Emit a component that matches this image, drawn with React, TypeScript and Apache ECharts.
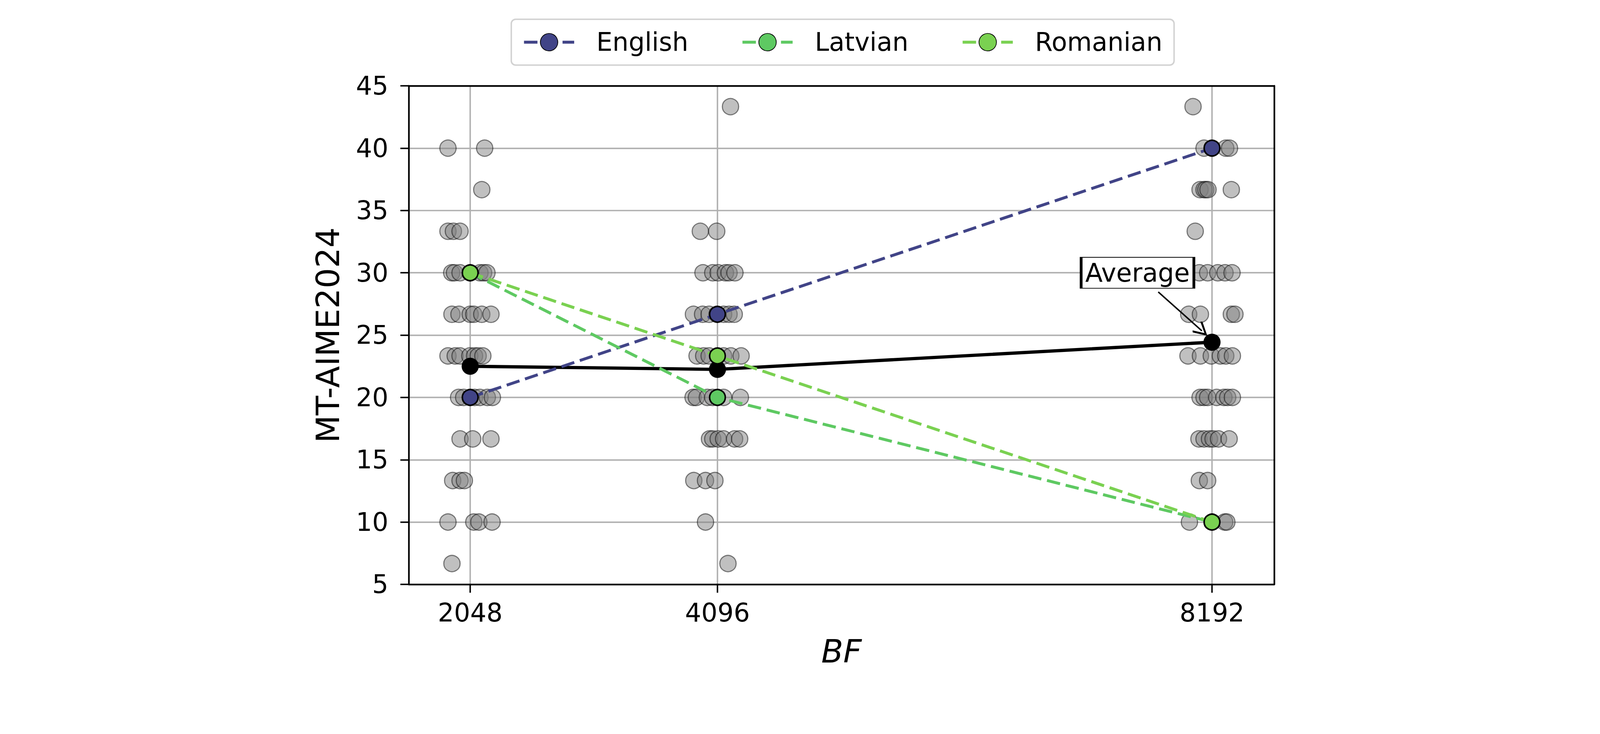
import React, { useEffect, useRef, useState } from 'react';
import * as echarts from 'echarts';

const FONT = 'DejaVu Sans';

// x categories (BF) and tick labels
const BF_TICKS = [2048, 4096, 8192];

// highlighted language series (score per BF)
const englishScores = [20, 26.67, 40];
const latvianScores = [30, 20, 10];
const romanianScores = [30, 23.33, 10];

// average over all languages
const averageScores = [22.5, 22.25, 24.43];

// gray jittered points: [offset from BF, score]
const jitter2048 = [
  [-184, 40], [120, 40], [96, 36.67],
  [-184, 33.33], [-139, 33.33], [-84, 33.33],
  [-153, 30], [-130, 30], [-84, 30], [0, 30], [81, 30], [111, 30], [139, 30],
  [-151, 26.67], [-93, 26.67], [0, 26.67], [30, 26.67], [96, 26.67], [172, 26.67],
  [-184, 23.33], [-124, 23.33], [-84, 23.33], [-3, 23.33], [36, 23.33], [66, 23.33], [105, 23.33],
  [-96, 20], [-54, 20], [0, 20], [36, 20], [81, 20], [142, 20], [184, 20],
  [-84, 16.67], [21, 16.67], [172, 16.67],
  [-145, 13.33], [-84, 13.33], [-48, 13.33],
  [-184, 10], [30, 10], [72, 10], [181, 10],
  [-151, 6.67],
];
const jitter4096 = [
  [108, 43.33],
  [-142, 33.33], [-6, 33.33],
  [-120, 30], [-39, 30], [6, 30], [66, 30], [96, 30], [145, 30],
  [-199, 26.67], [-123, 26.67], [-69, 26.67], [-3, 26.67], [51, 26.67], [96, 26.67], [139, 26.67],
  [-169, 23.33], [-114, 23.33], [-69, 23.33], [0, 23.33], [51, 23.33], [111, 23.33], [196, 23.33],
  [-202, 20], [-175, 20], [-84, 20], [-39, 20], [0, 20], [51, 20], [190, 20],
  [-66, 16.67], [-39, 16.67], [6, 16.67], [51, 16.67], [142, 16.67], [184, 16.67],
  [-196, 13.33], [-99, 13.33], [-21, 13.33],
  [-99, 10],
  [87, 6.67],
];
const jitter8192 = [
  [-157, 43.33],
  [-66, 40], [0, 40], [114, 40], [145, 40],
  [-99, 36.67], [-66, 36.67], [-51, 36.67], [-33, 36.67], [160, 36.67],
  [-139, 33.33],
  [-105, 30], [-36, 30], [48, 30], [108, 30], [166, 30],
  [-193, 26.67], [-96, 26.67], [160, 26.67], [190, 26.67],
  [-199, 23.33], [-96, 23.33], [-6, 23.33], [69, 23.33], [114, 23.33], [169, 23.33],
  [-99, 20], [-66, 20], [-36, 20], [39, 20], [99, 20], [130, 20], [169, 20],
  [-108, 16.67], [-66, 16.67], [-21, 16.67], [9, 16.67], [54, 16.67], [142, 16.67],
  [-105, 13.33], [-36, 13.33],
  [-187, 10], [0, 10], [105, 10], [123, 10],
];

// annotation anchors (data space)
const annotationText = [7575, 30];
const arrowStart = [7747, 28.46];
const arrowEnd = [8108, 25.34];

const X_MIN = 1539;
const X_MAX = 8707;

const W = 4400;
const H = 1879;

const scatterData = [
  ...jitter2048.map(([d, s]) => [2048 + d, s]),
  ...jitter4096.map(([d, s]) => [4096 + d, s]),
  ...jitter8192.map(([d, s]) => [8192 + d, s]),
];

const toLine = (vals: number[]) => BF_TICKS.map((b, i) => [b, vals[i]]);

function langSeries(name: string, color: string, vals: number[], z: number) {
  return {
    name,
    type: 'line',
    data: toLine(vals),
    symbol: 'circle',
    symbolSize: 43,
    z,
    lineStyle: { color, width: 8, type: [37, 16] },
    itemStyle: { color, borderColor: '#000', borderWidth: 4 },
  };
}

export default function App() {
  const ref = useRef<HTMLDivElement>(null);
  const [scale] = useState(() => (typeof window !== 'undefined' && window.innerWidth ? window.innerWidth / W : 1));
  useEffect(() => {
    const chart = echarts.init(ref.current!, null, { renderer: 'svg' });
    const axisLineStyle = { color: '#000', width: 4.5 };
    const option: any = {
      animation: false,
      backgroundColor: '#fff',
      textStyle: { fontFamily: FONT },
      grid: { left: 1124, right: 896, top: 236, bottom: 272, containLabel: false },
      legend: {
        data: ['English', 'Latvian', 'Romanian'],
        left: 1406,
        top: 53,
        orient: 'horizontal',
        itemWidth: 138,
        itemHeight: 60,
        itemGap: 145,
        padding: [28, 32, 28, 31],
        backgroundColor: '#fff',
        borderColor: '#d2d2d2',
        borderWidth: 4,
        borderRadius: 12,
        lineStyle: { width: 8 },
        textStyle: { fontSize: 70, color: '#000', fontFamily: FONT, padding: [0, 0, 0, 56] },
      },
      xAxis: [
        {
          type: 'value',
          min: X_MIN,
          max: X_MAX,
          position: 'bottom',
          name: 'BF',
          nameLocation: 'middle',
          nameGap: 140,
          nameTextStyle: { fontSize: 88, fontStyle: 'italic', color: '#000', fontFamily: FONT },
          axisLine: { show: true, onZero: false, lineStyle: axisLineStyle },
          axisTick: { show: true, customValues: BF_TICKS, length: 23, lineStyle: { color: '#000', width: 4 } },
          axisLabel: {
            customValues: BF_TICKS,
            formatter: (v: number) => String(v),
            fontSize: 70,
            color: '#000',
            margin: 43,
            fontFamily: FONT,
          },
          splitLine: { show: true, lineStyle: { color: '#b0b0b0', width: 4 } },
        },
        {
          type: 'value',
          min: X_MIN,
          max: X_MAX,
          position: 'top',
          axisLine: { show: true, onZero: false, lineStyle: axisLineStyle },
          axisTick: { show: false },
          axisLabel: { show: false },
          splitLine: { show: false },
        },
      ],
      yAxis: [
        {
          type: 'value',
          min: 5,
          max: 45,
          interval: 5,
          position: 'left',
          name: 'MT-AIME2024',
          nameLocation: 'middle',
          nameGap: 178,
          nameRotate: 90,
          nameTextStyle: { fontSize: 88, color: '#000', fontFamily: FONT },
          axisLine: { show: true, onZero: false, lineStyle: axisLineStyle },
          axisTick: { show: true, length: 23, lineStyle: { color: '#000', width: 4 } },
          axisLabel: { fontSize: 70, color: '#000', margin: 56, fontFamily: FONT },
          splitLine: { show: true, showMinLine: false, showMaxLine: false, lineStyle: { color: '#b0b0b0', width: 4 } },
        },
        {
          type: 'value',
          min: 5,
          max: 45,
          interval: 5,
          position: 'right',
          axisLine: { show: true, onZero: false, lineStyle: axisLineStyle },
          axisTick: { show: false },
          axisLabel: { show: false },
          splitLine: { show: false },
        },
      ],
      series: [
        {
          name: 'All',
          type: 'scatter',
          data: scatterData,
          symbol: 'circle',
          symbolSize: 45,
          z: 2,
          itemStyle: { color: 'rgba(128,128,128,0.62)', borderColor: 'rgba(0,0,0,0.6)', borderWidth: 3 },
        },
        {
          name: 'Average',
          type: 'line',
          data: toLine(averageScores),
          symbol: 'circle',
          symbolSize: 47,
          z: 3,
          lineStyle: { color: '#000', width: 9 },
          itemStyle: { color: '#000' },
          markLine: {
            silent: true,
            symbol: ['none', 'path://M10,0 L20,17 L18,19 L10,5 L2,19 L0,17 Z'],
            symbolSize: 40,
            label: { show: false },
            lineStyle: { color: '#000', width: 4, type: 'solid' },
            data: [[{ coord: arrowStart }, { coord: arrowEnd }]],
          },
          markPoint: {
            silent: true,
            symbol: 'rect',
            symbolSize: [310, 85],
            itemStyle: { color: '#fff', borderColor: '#000', borderWidth: 4 },
            label: { show: true, position: 'inside', formatter: 'Average', fontSize: 70, color: '#000', fontFamily: FONT },
            data: [{ coord: annotationText }],
          },
        },
        langSeries('English', '#414487', englishScores, 4),
        langSeries('Latvian', '#5ec962', latvianScores, 5),
        langSeries('Romanian', '#7ad151', romanianScores, 6),
      ],
    };
    chart.setOption(option);
    return () => chart.dispose();
  }, []);
  return (
    <div style={{ position: 'fixed', left: 0, top: 0, right: 0, bottom: 0, overflow: 'hidden', background: '#fff' }}>
      <div
        ref={ref}
        style={{
          position: 'absolute',
          left: 0,
          top: 0,
          width: W,
          height: H,
          background: '#fff',
          transform: `scale(${scale})`,
          transformOrigin: '0 0',
        }}
      />
    </div>
  );
}
